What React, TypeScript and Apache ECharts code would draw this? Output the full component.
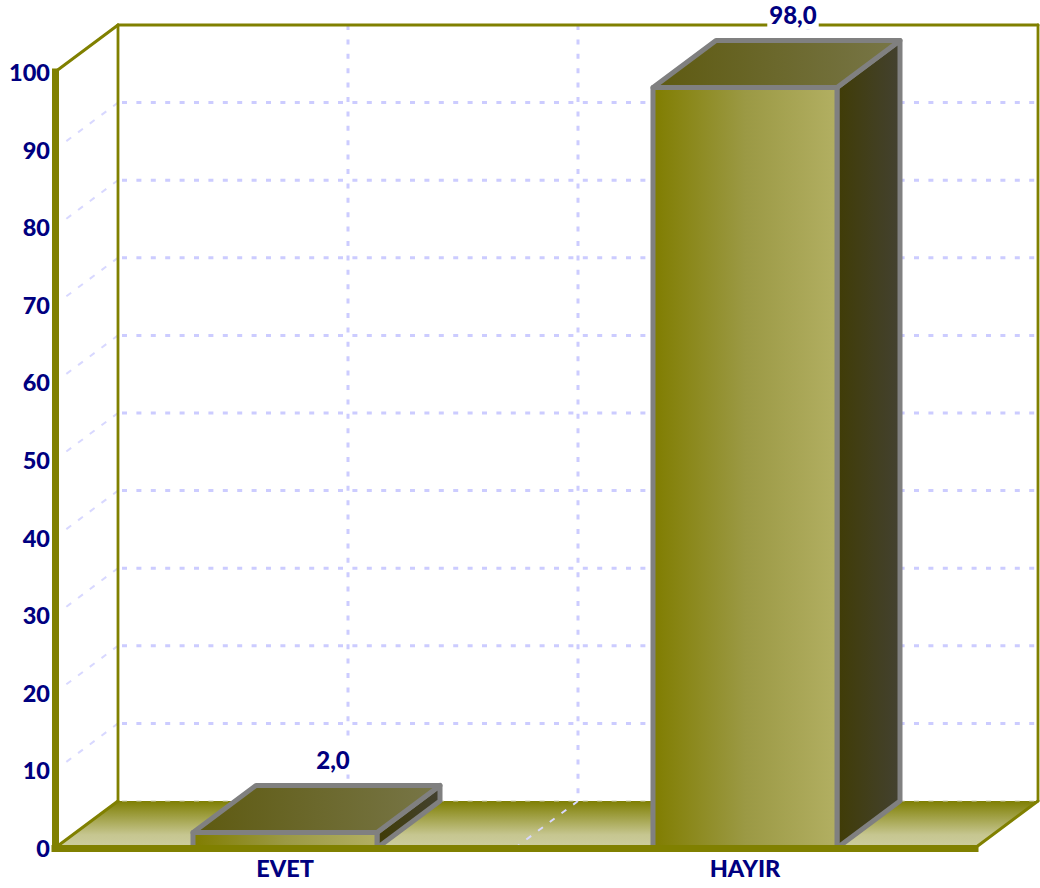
import React, { useEffect, useRef } from "react";
import * as echarts from "echarts";

const categories = ["EVET", "HAYIR"];
const values = [2.0, 98.0];
const horizontalGridTicks = [0, 10, 20, 30, 40, 50, 60, 70, 80, 90];
const verticalGridPositions = [0, 0.5, 1];

const OLIVE = "#808000";
const NAVY = "#000080";
const GRID_COLOR = "#ccccff";
const DIAG_COLOR = "#d8d8ff";
const EDGE = "#808080";
const FONT = "Lato";
const DX = 63;
const DY = 47;

function hGrid(_: any, api: any) {
  const v = api.value(0);
  const origin = api.coord([0, v]);
  const x0 = origin[0] - api.size([1, 0])[0] / 2;
  const w = api.size([1, 0])[0] * categories.length;
  const y = origin[1];
  const children: any[] = [
    {
      type: "line",
      shape: { x1: x0 + DX + 4, y1: y - DY, x2: x0 + w + DX, y2: y - DY },
      style:
        v === 0
          ? { stroke: "#d0d0b8", lineWidth: 1.2, lineDash: [5, 9.4] }
          : { stroke: GRID_COLOR, lineWidth: 3, lineDash: [5, 9.4] },
    },
  ];
  if (v !== 0) {
    children.push({
      type: "line",
      shape: { x1: x0 + DX, y1: y - DY, x2: x0 + 8, y2: y - 6 },
      style: { stroke: DIAG_COLOR, lineWidth: 2, lineDash: [6, 8.6] },
    });
  }
  return { type: "group", children };
}

function vGrid(_: any, api: any) {
  const pos = api.value(0);
  const band = api.size([1, 0])[0];
  const left = api.coord([0, 0]);
  const top = api.coord([0, 100]);
  const x = left[0] - band / 2 + band * categories.length * (0.25 + pos * 0.5);
  return {
    type: "group",
    children: [
      {
        type: "line",
        shape: { x1: x + DX, y1: top[1] - DY, x2: x + DX, y2: left[1] - DY },
        style: { stroke: GRID_COLOR, lineWidth: 3, lineDash: [5, 9.4] },
      },
      {
        type: "line",
        shape: { x1: x + DX, y1: left[1] - DY, x2: x, y2: left[1] },
        style: { stroke: DIAG_COLOR, lineWidth: 2, lineDash: [6, 8.6] },
      },
    ],
  };
}

function frameFloor(_: any, api: any) {
  const band = api.size([1, 0])[0];
  const o = api.coord([0, 0]);
  const x0 = o[0] - band / 2;
  const x1 = x0 + band * categories.length;
  const y0 = o[1];
  return {
    type: "polygon",
    shape: { points: [[x0, y0], [x0 + DX, y0 - DY], [x1 + DX, y0 - DY], [x1, y0]] },
    style: {
      fill: new echarts.graphic.LinearGradient(0, 0, 0, 1, [
        { offset: 0, color: "#7f7f03" },
        { offset: 0.72, color: "#c6c690" },
        { offset: 1, color: "#cdcd9f" },
      ]),
    },
  };
}

function frameLines(_: any, api: any) {
  const band = api.size([1, 0])[0];
  const o = api.coord([0, 0]);
  const t = api.coord([0, 100]);
  const x0 = o[0] - band / 2;
  const x1 = x0 + band * categories.length;
  const yb = o[1];
  const yt = t[1];
  const s = (lw: number) => ({ stroke: OLIVE, lineWidth: lw, lineCap: "round" });
  const line = (a: number, b: number, c: number, d: number, lw: number) => ({
    type: "line",
    shape: { x1: a, y1: b, x2: c, y2: d },
    style: s(lw),
  });
  return {
    type: "group",
    children: [
      line(x0 + DX, yt - DY, x1 + DX, yt - DY, 3),
      line(x0 + DX, yt - DY, x0 + DX, yb - DY, 2.8),
      line(x1 + DX, yt - DY, x1 + DX, yb - DY, 2.8),
      line(x0, yt, x0 + DX, yt - DY, 3),
      line(x0, yb, x0 + DX, yb - DY, 3),
      line(x1, yb, x1 + DX, yb - DY, 3),
    ],
  };
}

function bar3d(_: any, api: any) {
  const i = api.value(0);
  const v = api.value(1);
  const band = api.size([1, 0])[0];
  const c = api.coord([i, v]);
  const b = api.coord([i, 0]);
  const w = band * 0.4;
  const l = c[0] - w / 2;
  const r = c[0] + w / 2;
  const t = c[1];
  const bt = b[1];
  const edge = { stroke: EDGE, lineWidth: 5, lineJoin: "round" };
  return {
    type: "group",
    children: [
      {
        type: "polygon",
        shape: { points: [[r, t], [r + DX, t - DY], [r + DX, bt - DY], [r, bt]] },
        style: {
          ...edge,
          fill: new echarts.graphic.LinearGradient(0, 0, 1, 0, [
            { offset: 0, color: "#403c06" },
            { offset: 1, color: "#434130" },
          ]),
        },
      },
      {
        type: "polygon",
        shape: { points: [[l, t], [l + DX, t - DY], [r + DX, t - DY], [r, t]] },
        style: {
          ...edge,
          fill: new echarts.graphic.LinearGradient(0, 0, 1, 0, [
            { offset: 0, color: "#5e5a10" },
            { offset: 1, color: "#787648" },
          ]),
        },
      },
      {
        type: "polygon",
        shape: { points: [[l, t], [r, t], [r, bt], [l, bt]] },
        style: {
          ...edge,
          fill: new echarts.graphic.LinearGradient(0, 0, 1, 0, [
            { offset: 0, color: "#807d00" },
            { offset: 0.5, color: "#9b9944" },
            { offset: 1, color: "#b2af62" },
          ]),
        },
      },
      {
        type: "text",
        style: {
          text: v.toFixed(1).replace(".", ","),
          x: c[0] + 48,
          y: t - 73,
          align: "center",
          verticalAlign: "middle",
          fill: NAVY,
          font: `900 24px ${FONT}`,
          backgroundColor: "#ffffff",
          padding: [3, 2, 3, 2],
        },
      },
    ],
  };
}

export default function App() {
  const ref = useRef<HTMLDivElement | null>(null);
  useEffect(() => {
    if (!ref.current) return;
    const chart = echarts.init(ref.current, undefined, { renderer: "svg" });
    const axisText = { color: NAVY, fontFamily: FONT, fontWeight: 900 as const, fontSize: 23.5 };
    const axisLine = { show: true, lineStyle: { color: OLIVE, width: 7, cap: "square" as const } };
    chart.setOption({
      animation: false,
      backgroundColor: "#ffffff",
      grid: { left: 55, right: 65, top: 72, bottom: 40, containLabel: false },
      xAxis: {
        type: "category",
        data: categories,
        z: 20,
        axisLine,
        axisTick: { show: false },
        splitLine: { show: false },
        axisLabel: { ...axisText, margin: 8 },
      },
      yAxis: {
        type: "value",
        min: 0,
        max: 100,
        interval: 10,
        z: 20,
        axisLine,
        axisTick: { show: false },
        splitLine: { show: false },
        axisLabel: { ...axisText, margin: 5 },
      },
      series: [
        { type: "custom", z: 1, clip: false, silent: true, data: [[0]], renderItem: frameFloor },
        { type: "custom", z: 2, clip: false, silent: true, data: horizontalGridTicks.map((t) => [t]), renderItem: hGrid, encode: { x: -1, y: 0 } },
        { type: "custom", z: 2, clip: false, silent: true, data: verticalGridPositions.map((t) => [t]), renderItem: vGrid, encode: { x: -1, y: -1 } },
        { type: "custom", z: 3, clip: false, silent: true, data: [[0]], renderItem: frameLines },
        {
          type: "custom",
          z: 4,
          clip: false,
          silent: true,
          data: values.map((v, i) => [i, v]),
          encode: { x: 0, y: 1 },
          renderItem: bar3d,
        },
      ],
    });
    return () => chart.dispose();
  }, []);
  return <div ref={ref} style={{ position: "absolute", left: 0, top: 0, width: 1040, height: 888 }} />;
}
